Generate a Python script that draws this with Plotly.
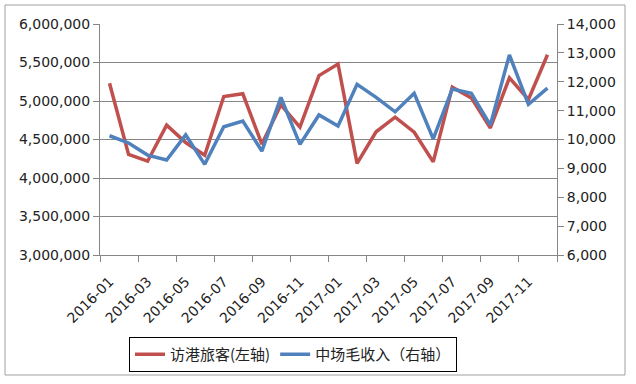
import plotly.graph_objects as go

months = ["2016-01", "2016-02", "2016-03", "2016-04", "2016-05", "2016-06",
          "2016-07", "2016-08", "2016-09", "2016-10", "2016-11", "2016-12",
          "2017-01", "2017-02", "2017-03", "2017-04", "2017-05", "2017-06",
          "2017-07", "2017-08", "2017-09", "2017-10", "2017-11", "2017-12"]

visitors = [5230000, 4305000, 4218000, 4686000, 4460000, 4295000,
            5059000, 5094000, 4440000, 4950000, 4660000, 5330000,
            5480000, 4190000, 4600000, 4790000, 4595000, 4210000,
            5180000, 5040000, 4650000, 5300000, 5020000, 5600000]

revenue = [10130, 9880, 9460, 9290, 10160, 9140,
           10440, 10640, 9600, 11460, 9830, 10850,
           10470, 11910, 11460, 10960, 11600, 10020,
           11750, 11600, 10500, 12930, 11220, 11780]

name_left = "访港旅客(左轴)"
name_right = "中场毛收入（右轴）"

W, H = 636, 384
L, R, T, B = 100, 79, 24, 129
pw, ph = W - L - R, H - T - B

def px_x(p):
    return (p - L) / pw

def px_y(p):
    return (H - B - p) / ph

fig = go.Figure()
fig.add_trace(go.Scatter(x=months, y=visitors, name=name_left, mode="lines",
                         line=dict(color="#C0504D", width=3.5)))
fig.add_trace(go.Scatter(x=months, y=revenue, name=name_right, mode="lines",
                         line=dict(color="#4F81BD", width=3.5), yaxis="y2"))

axis_col = "#868686"
tick_font = dict(family="DejaVu Sans", size=14, color="#222222")

fig.update_layout(
    width=W, height=H,
    margin=dict(l=L, r=R, t=T, b=B, autoexpand=False),
    paper_bgcolor="white", plot_bgcolor="white",
    showlegend=True,
    xaxis=dict(type="category", range=[-0.5, 23.5], tickmode="linear", tick0=0, dtick=2,
               tickson="boundaries", ticks="outside", ticklen=6, tickcolor=axis_col,
               showline=True, linecolor=axis_col, linewidth=1, showgrid=False,
               tickangle=-45, tickfont=tick_font, automargin=False, ticklabelstandoff=12),
    yaxis=dict(range=[3000000, 6000000], dtick=500000, tickformat=",d",
               ticks="outside", ticklen=6, tickcolor=axis_col,
               showline=True, linecolor=axis_col, linewidth=1,
               showgrid=True, gridcolor=axis_col, gridwidth=1,
               zeroline=False, tickfont=tick_font, automargin=False),
    yaxis2=dict(range=[6000, 14000], dtick=1000, tickformat=",d", overlaying="y", side="right",
                ticks="outside", ticklen=6, tickcolor=axis_col,
                showline=True, linecolor=axis_col, linewidth=1,
                showgrid=False, zeroline=False, tickfont=tick_font, automargin=False),
    legend=dict(orientation="h", xref="container", yref="container",
                x=293 / W, xanchor="center", y=(H - 337) / H, yanchor="top",
                bordercolor="#000000", borderwidth=1, bgcolor="white",
                font=dict(family="Noto Sans CJK SC", size=15, color="#222222"),
                itemwidth=30, tracegroupgap=0),
    shapes=[dict(type="rect", xref="paper", yref="paper",
                 x0=px_x(5), x1=px_x(625), y0=px_y(375), y1=px_y(5),
                 line=dict(color="#A0A0A0", width=1), fillcolor="rgba(0,0,0,0)", layer="below")],
)

fig.write_html("out.html", config={"displayModeBar": False},
               post_script="document.body.style.margin='0';document.body.style.overflow='hidden';")
